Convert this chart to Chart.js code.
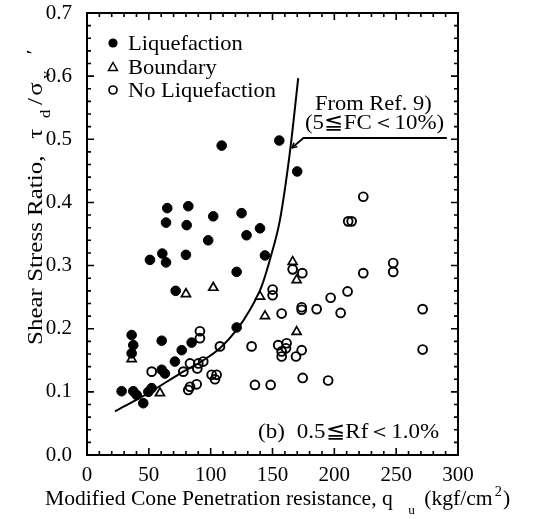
<!DOCTYPE html>
<html>
<head>
<meta charset="utf-8">
<script src="https://cdn.jsdelivr.net/npm/chart.js@4/dist/chart.umd.min.js"></script>
<style>
html,body{margin:0;padding:0;background:#fff;}
#wrap{width:534px;height:519px;position:relative;}
</style>
</head>
<body>
<div id="wrap"><canvas id="c" width="534" height="519"></canvas></div>
<script>
// ---- data ----
const liqX = [108.9,155.5,170,64.9,81.9,63.9,80.6,102.1,125,139.9,98,129,50.9,60.9,63.9,80,71.7,121,143.9,121,36.1,37.4,36.1,60.4,76.6,84.6,71.1,60.4,63,28,37.4,40.2,45.5,52.3,49.6];
const liqY = [0.490,0.498,0.449,0.391,0.394,0.368,0.364,0.378,0.383,0.359,0.340,0.348,0.309,0.319,0.305,0.317,0.260,0.290,0.316,0.202,0.190,0.174,0.161,0.181,0.166,0.178,0.148,0.135,0.129,0.101,0.101,0.095,0.082,0.106,0.100];

const bndX = [36.1,80,102.1,59,139.9,143.9,166.3,169.5,169.5];
const bndY = [0.152,0.255,0.265,0.098,0.251,0.220,0.306,0.277,0.195];

const noX = [52.3,77.9,83.3,90,89.2,94,91.3,91.3,107.5,83.3,88.7,81.9,100.8,104.8,103.5,133.1,135.8,148.5,150.1,150.1,157.4,154.6,161.4,160.9,157.4,157.4,166.3,174.1,173.6,173.6,173.6,169,174.4,185.7,197,205.1,210.7,211.2,214,223.4,223.4,247.6,247.6,271.4,271.4,195];
const noY = [0.132,0.132,0.145,0.145,0.137,0.148,0.185,0.196,0.172,0.108,0.112,0.103,0.127,0.127,0.120,0.172,0.111,0.111,0.262,0.253,0.224,0.174,0.177,0.169,0.164,0.156,0.294,0.288,0.230,0.234,0.166,0.156,0.122,0.231,0.249,0.225,0.259,0.370,0.370,0.409,0.288,0.304,0.290,0.231,0.167,0.118];

const curveX = [22.6,49.6,75.2,94,107.5,121,131.8,141.2,149.3,156,164.1,170.8];
const curveY = [0.069,0.098,0.129,0.150,0.169,0.198,0.230,0.267,0.319,0.372,0.480,0.597];

const refX = [165.5,175,291];
const refY = [0.486,0.502,0.502];

const xTickLabels = [0,50,100,150,200,250,300];
const yTickLabels = [0.0,0.1,0.2,0.3,0.4,0.5,0.6,0.7];

const seriesNames = ['Liquefaction','Boundary','No Liquefaction'];

function pts(xs, ys){ return xs.map((x,i)=>({x:x, y:ys[i]})); }

const SERIF = "'Liberation Serif', 'Times New Roman', serif";

// draw text pieces horizontally stretched by factor sx, starting at (x,y)
function stretchedText(ctx, pieces, x, y, sx) {
  ctx.save();
  ctx.translate(x, y);
  ctx.scale(sx, 1);
  let cx = 0;
  for (const p of pieces) {
    ctx.font = p.size + 'px ' + SERIF;
    cx += (p.gap || 0);
    ctx.fillText(p.t, cx, p.dy || 0);
    cx += ctx.measureText(p.t).width;
  }
  ctx.restore();
}

const framePlugin = {
  id: 'frameTicks',
  afterDatasetsDraw(chart){
    const ctx = chart.ctx;
    const a = chart.chartArea;
    const xs = chart.scales.x, ys = chart.scales.y;
    ctx.save();
    ctx.strokeStyle = '#000';
    ctx.lineWidth = 2;
    ctx.strokeRect(a.left, a.top, a.right - a.left, a.bottom - a.top);
    ctx.lineWidth = 1.6;
    ctx.beginPath();
    for (let v = 0; v <= 300; v += 10) {
      const px = xs.getPixelForValue(v);
      const len = (v % 50 === 0) ? 7 : 4;
      ctx.moveTo(px, a.bottom); ctx.lineTo(px, a.bottom - len);
      ctx.moveTo(px, a.top); ctx.lineTo(px, a.top + len);
    }
    for (let k = 0; k <= 35; k++) {
      const v = k * 0.02;
      const py = ys.getPixelForValue(v);
      const len = (k % 5 === 0) ? 7 : 4;
      ctx.moveTo(a.left, py); ctx.lineTo(a.left + len, py);
      ctx.moveTo(a.right, py); ctx.lineTo(a.right - len, py);
    }
    ctx.stroke();

    // arrowhead at the start of the reference line
    const p0 = {x: xs.getPixelForValue(refX[0]), y: ys.getPixelForValue(refY[0])};
    const p1 = {x: xs.getPixelForValue(refX[1]), y: ys.getPixelForValue(refY[1])};
    const ang = Math.atan2(p0.y - p1.y, p0.x - p1.x);
    ctx.lineWidth = 1.5;
    ctx.beginPath();
    ctx.moveTo(p0.x, p0.y);
    ctx.lineTo(p0.x - 6*Math.cos(ang - 0.45), p0.y - 6*Math.sin(ang - 0.45));
    ctx.moveTo(p0.x, p0.y);
    ctx.lineTo(p0.x - 6*Math.cos(ang + 0.45), p0.y - 6*Math.sin(ang + 0.45));
    ctx.stroke();

    // legend
    ctx.fillStyle = '#000';
    ctx.textBaseline = 'alphabetic';
    ctx.textAlign = 'left';
    const lx = a.left + 26, tx = a.left + 41;
    const rows = [a.top + 30, a.top + 54, a.top + 77];
    ctx.beginPath(); ctx.arc(lx, rows[0], 4.6, 0, Math.PI*2); ctx.fill();
    ctx.lineWidth = 1.5;
    ctx.beginPath();
    ctx.moveTo(lx, rows[1] - 4.5); ctx.lineTo(lx + 4.5, rows[1] + 3.5); ctx.lineTo(lx - 4.5, rows[1] + 3.5); ctx.closePath(); ctx.stroke();
    ctx.lineWidth = 1.7;
    ctx.beginPath(); ctx.arc(lx, rows[2], 4, 0, Math.PI*2); ctx.stroke();
    for (let i = 0; i < 3; i++) stretchedText(ctx, [{t: seriesNames[i], size: 21}], tx, rows[i] + 7, 1.07);

    // annotations
    stretchedText(ctx, [{t:'From Ref. 9)', size: 21}], 315, 110, 1.07);
    stretchedText(ctx, [{t:'(5\u2266FC\uFF1C10%)', size: 21}], 305, 129, 1.09);
    stretchedText(ctx, [{t:'(b)', size: 21}, {t:'0.5\u2266Rf\uFF1C1.0%', size: 21, gap: 11}], 258, 438, 1.095);

    // x axis title
    stretchedText(ctx, [
      {t:'Modified Cone Penetration resistance, q', size: 21},
      {t:'u', size: 13, dy: 9, gap: 15},
      {t:'(kgf/cm', size: 21, gap: 9},
      {t:'2', size: 14, dy: -9, gap: 2},
      {t:')', size: 21, gap: 1}
    ], 45, 505, 1.03);

    // y axis title (rotated)
    ctx.save();
    ctx.translate(42, 345);
    ctx.rotate(-Math.PI/2);
    stretchedText(ctx, [
      {t:'Shear Stress Ratio,', size: 21},
      {t:'\u03C4', size: 21, gap: 14},
      {t:'d', size: 14, dy: 8, gap: 9},
      {t:'/', size: 21, gap: 4},
      {t:'\u03C3', size: 21, gap: 2},
      {t:'v', size: 13, dy: 8, gap: 3},
      {t:'\u2032', size: 18, dy: -2, gap: 14}
    ], 0, 0, 1.19);
    ctx.restore();

    ctx.restore();
  }
};

new Chart(document.getElementById('c'), {
  type: 'scatter',
  data: {
    datasets: [
      { label: seriesNames[0], data: pts(liqX, liqY), pointStyle: 'circle', pointRadius: 4.8,
        backgroundColor: '#000', borderColor: '#000', borderWidth: 1 },
      { label: seriesNames[1], data: pts(bndX, bndY), pointStyle: 'triangle', pointRadius: 5.2,
        backgroundColor: '#fff', borderColor: '#000', borderWidth: 1.7 },
      { label: seriesNames[2], data: pts(noX, noY), pointStyle: 'circle', pointRadius: 4.4,
        backgroundColor: 'rgba(0,0,0,0)', borderColor: '#000', borderWidth: 1.9 },
      { label: 'curve', data: pts(curveX, curveY), showLine: true, pointRadius: 0,
        borderColor: '#000', borderWidth: 2, cubicInterpolationMode: 'monotone', fill: false },
      { label: 'ref', data: pts(refX, refY), showLine: true, pointRadius: 0,
        borderColor: '#000', borderWidth: 1.8, tension: 0, fill: false }
    ]
  },
  options: {
    responsive: false,
    animation: false,
    devicePixelRatio: 1,
    layout: { padding: { top: 13, right: 76, left: 0, bottom: 0 } },
    plugins: { legend: { display: false }, tooltip: { enabled: false } },
    scales: {
      x: {
        type: 'linear', min: 0, max: 300,
        grid: { display: false }, border: { display: false },
        afterBuildTicks: (s) => { s.ticks = xTickLabels.map(v => ({value: v})); },
        afterFit: (s) => { s.height = 64; s.paddingLeft = 0; s.paddingRight = 0; },
        ticks: { color: '#000', padding: 0, maxRotation: 0, font: { family: SERIF, size: 21 },
                 callback: (v) => String(v) }
      },
      y: {
        type: 'linear', min: 0, max: 0.7,
        grid: { display: false }, border: { display: false },
        afterBuildTicks: (s) => { s.ticks = yTickLabels.map(v => ({value: v})); },
        afterFit: (s) => { s.width = 87; s.paddingTop = 0; s.paddingBottom = 0; },
        ticks: { color: '#000', padding: 7, font: { family: SERIF, size: 21 },
                 callback: (v) => Number(v).toFixed(1) }
      }
    }
  },
  plugins: [framePlugin]
});
</script>
</body>
</html>
